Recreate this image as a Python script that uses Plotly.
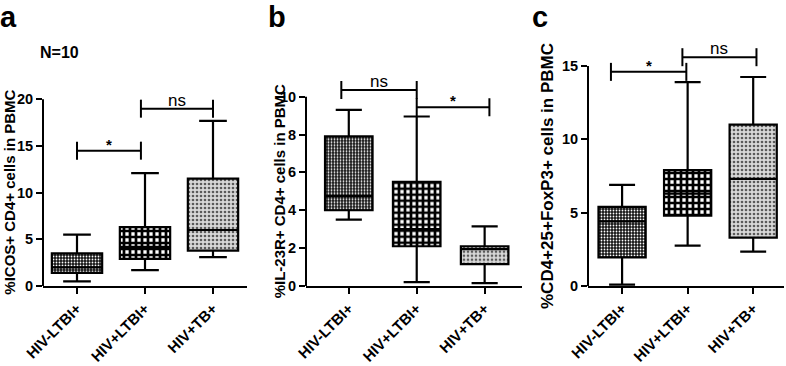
import plotly.graph_objects as go

W, H = 786, 366

categories = ["HIV-LTBI+", "HIV+LTBI+", "HIV+TB+"]
cat_pos = [0, 1, 2]

# Panel a: %ICOS+ CD4+ cells in PBMC
a_low = [0.5, 1.7, 3.1]
a_q1 = [1.4, 2.9, 3.8]
a_med = [2.0, 4.2, 6.0]
a_q3 = [3.5, 6.3, 11.5]
a_high = [5.5, 12.1, 17.7]
a_ticks = [0, 5, 10, 15, 20]

# Panel b: %IL-23R+ CD4+ cells in PBMC
b_low = [3.5, 0.2, 0.15]
b_q1 = [4.0, 2.1, 1.15]
b_med = [4.75, 3.0, 1.95]
b_q3 = [7.9, 5.5, 2.1]
b_high = [9.3, 8.95, 3.15]
b_ticks = [0, 2, 4, 6, 8, 10]

# Panel c: %CD4+25+FoxP3+ cells in PBMC
c_low = [0.1, 2.75, 2.35]
c_q1 = [1.95, 4.8, 3.3]
c_med = [4.4, 6.3, 7.3]
c_q3 = [5.4, 7.9, 11.0]
c_high = [6.9, 13.9, 14.25]
c_ticks = [0, 5, 10, 15]

# significance brackets: (from, to, height, label)
a_brackets = [(0.0, 0.94, 14.5, "*"), (0.94, 2.0, 19.0, "ns")]
b_brackets = [(-0.11, 1.0, 10.35, "ns"), (1.0, 2.07, 9.44, "*")]
c_brackets = [(-0.17, 0.98, 14.6, "*"), (0.92, 2.05, 15.6, "ns")]

FONT = "Liberation Sans"

# panel layout in pixels
panels = [
    dict(name="a", title="%ICOS+ CD4+ cells in PBMC", low=a_low, q1=a_q1, med=a_med, q3=a_q3, high=a_high,
         ticks=a_ticks, brackets=a_brackets, xpx=(43, 247), xr=(-0.5, 2.5), yr=(0, 21), ytop=90,
         axis_top=20, title_x=10, title_font=15, label_x=8, width=0.74),
    dict(name="b", title="%IL-23R+ CD4+ cells in PBMC", low=b_low, q1=b_q1, med=b_med, q3=b_q3, high=b_high,
         ticks=b_ticks, brackets=b_brackets, xpx=(306, 522), xr=(-0.63, 2.55), yr=(0, 11), ytop=77.7,
         axis_top=10, title_x=279, title_font=15, label_x=277, width=0.7),
    dict(name="c", title="%CD4+25+FoxP3+ cells in PBMC", low=c_low, q1=c_q1, med=c_med, q3=c_q3, high=c_high,
         ticks=c_ticks, brackets=c_brackets, xpx=(588, 784), xr=(-0.52, 2.47), yr=(0, 16.5), ytop=44,
         axis_top=15, title_x=547, title_font=17, label_x=540, width=0.72),
]
Y0PX = 286

patterns = [
    dict(shape=".", bgcolor="#151515", fgcolor="#ffffff", size=3, solidity=0.28),
    dict(shape="+", bgcolor="#ffffff", fgcolor="#000000", size=6, solidity=0.7),
    dict(shape=".", bgcolor="#d8d8d8", fgcolor="#5a5a5a", size=4, solidity=0.35),
]

fig = go.Figure()
layout = dict(width=W, height=H, margin=dict(l=0, r=0, t=0, b=0), autosize=False,
              paper_bgcolor="white", plot_bgcolor="white", showlegend=False,
              barmode="overlay", boxmode="overlay", font=dict(family=FONT, color="black"))
annotations = []
shapes = []

for i, p in enumerate(panels):
    k = "" if i == 0 else str(i + 1)
    xa, ya = "x" + k, "y" + k
    q1, q3 = p["q1"], p["q3"]
    for j in range(len(categories)):
        pat = patterns[j]
        fig.add_trace(go.Bar(x=[cat_pos[j]], y=[q3[j] - q1[j]], base=[q1[j]], width=p["width"],
                             xaxis=xa, yaxis=ya, hoverinfo="skip",
                             marker=dict(color=pat["bgcolor"], line=dict(width=0),
                                         pattern=dict(fillmode="replace", **pat))))
    fig.add_trace(go.Box(x=cat_pos, q1=q1, median=p["med"], q3=q3, lowerfence=p["low"],
                         upperfence=p["high"], width=p["width"], whiskerwidth=0.55,
                         fillcolor="rgba(0,0,0,0)", line=dict(color="black", width=2.2),
                         boxpoints=False, xaxis=xa, yaxis=ya))
    ppu = (Y0PX - p["ytop"]) / (p["yr"][1] - p["yr"][0])
    d = 9 / ppu
    for (x0, x1, yb, lab) in p["brackets"]:
        fig.add_trace(go.Scatter(x=[x0, x0, None, x0, x1, None, x1, x1],
                                 y=[yb - d, yb + d, None, yb, yb, None, yb - d, yb + d],
                                 mode="lines", line=dict(color="black", width=2),
                                 xaxis=xa, yaxis=ya, hoverinfo="skip"))
        if lab == "*":
            annotations.append(dict(x=(x0 + x1) / 2, y=yb, xref=xa, yref=ya, text="<b>*</b>",
                                    showarrow=False, yanchor="bottom", yshift=-4,
                                    font=dict(size=15, family=FONT)))
        else:
            annotations.append(dict(x=(x0 + x1) / 2, y=yb, xref=xa, yref=ya, text="ns",
                                    showarrow=False, yanchor="bottom", yshift=-3,
                                    font=dict(size=17, family=FONT)))
    xd = [p["xpx"][0] / W, p["xpx"][1] / W]
    yd = [(H - Y0PX) / H, (H - p["ytop"]) / H]
    layout["xaxis" + k] = dict(domain=xd, range=list(p["xr"]), anchor=ya, tickvals=cat_pos,
                               ticktext=["<b>" + c + "</b>" for c in categories], tickangle=-45,
                               showline=True, linewidth=2, automargin=False,
                               linecolor="black", ticks="outside", ticklen=6, tickwidth=2,
                               tickcolor="black", showgrid=False, zeroline=False,
                               tickfont=dict(size=15, family=FONT, color="black"))
    layout["yaxis" + k] = dict(domain=yd, range=list(p["yr"]), anchor=xa, tickvals=p["ticks"],
                               ticktext=["<b>%d</b>" % t for t in p["ticks"]], automargin=False,
                               showline=False, ticks="outside", ticklen=6, tickwidth=2,
                               tickcolor="black", showgrid=False, zeroline=False,
                               tickfont=dict(size=14.5, family=FONT, color="black"))
    shapes.append(dict(type="line", xref=xa + " domain", yref=ya, x0=0, x1=0, y0=0,
                       y1=p["axis_top"], line=dict(color="black", width=2)))
    ymid_px = Y0PX - (p["axis_top"] / 2) * ppu
    annotations.append(dict(x=p["title_x"] / W, y=(H - ymid_px) / H, xref="paper", yref="paper",
                            text="<b>" + p["title"] + "</b>", textangle=-90, showarrow=False,
                            xanchor="center", yanchor="middle",
                            font=dict(size=p["title_font"], family=FONT)))
    annotations.append(dict(x=p["label_x"] / W, y=1.0, xref="paper", yref="paper",
                            text="<b>" + p["name"] + "</b>", showarrow=False,
                            xanchor="center", yanchor="top", yshift=0, borderpad=0,
                            font=dict(size=29, family=FONT)))

annotations.append(dict(x=38 / W, y=(H - 52) / H, xref="paper", yref="paper", text="<b>N=10</b>",
                        showarrow=False, xanchor="left", yanchor="middle",
                        font=dict(size=16, family=FONT)))

layout["annotations"] = annotations
layout["shapes"] = shapes
fig.update_layout(**layout)
fig.write_html("out.html", config={"displayModeBar": False},
               post_script="document.body.style.margin='0px';document.body.style.overflow='hidden';")
